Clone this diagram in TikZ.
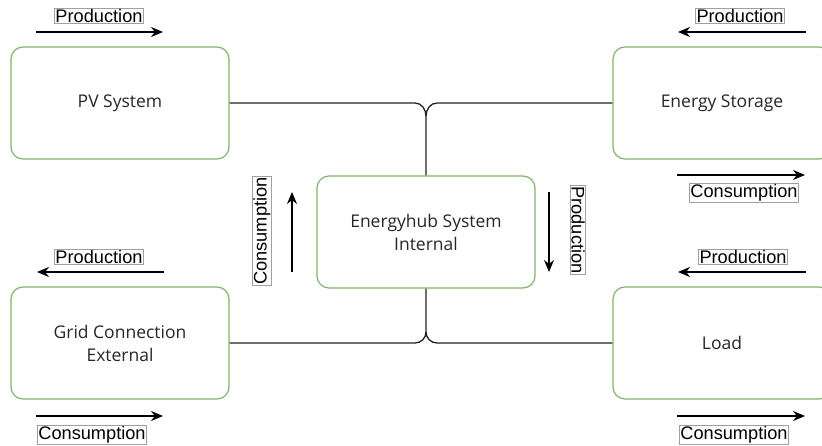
\documentclass[tikz,border=0pt]{standalone}
\usepackage{fontspec}
\setmainfont{Open Sans}
\newfontfamily\etiquetafont{Liberation Sans}
\usepackage{tikz}
\usetikzlibrary{arrows.meta,calc,positioning}
\definecolor{verdeBorde}{RGB}{130,179,102}
\definecolor{grisLinea}{RGB}{34,34,34}
\definecolor{grisCaja}{RGB}{160,160,160}
\tikzstyle{bloque}  =[rectangle, draw=verdeBorde, rounded corners=12pt,
                      line width=1.2pt, minimum width=218pt,
                      minimum height=112pt, align=center,
                      text=black!85, font=\fontsize{17.5}{23}\selectfont]
\tikzstyle{etiqueta}=[draw=grisCaja, line width=0.5pt, inner sep=1pt,
                      font=\etiquetafont\fontsize{18.2}{19}\selectfont]
\tikzstyle{linea}   =[grisLinea, line width=1.3pt]
\tikzstyle{flecha}  =[-{Stealth[length=12pt,width=10pt]}, line width=1.3pt]

\begin{document}
\begin{tikzpicture}[x=1pt,y=-1pt]
    \useasboundingbox (0,0) rectangle (822,446);

    % bloques
    \node[bloque] (pv)      at (120,103) {PV System};
    \node[bloque] (storage) at (722,103) {Energy Storage};
    \node[bloque] (hub)     at (426,232) {Energyhub System\\Internal};
    \node[bloque] (grid)    at (120,343) {Grid Connection\\External};
    \node[bloque] (load)    at (722,343) {Load};

    % uniones
    \coordinate (topJ) at (426,116);
    \coordinate (topL) at (415,103);
    \coordinate (topR) at (437,103);
    \coordinate (botJ) at (426,332);
    \coordinate (botL) at (415,343);
    \coordinate (botR) at (437,343);

    \draw[linea] (pv.east) -- (topL) to[out=0,in=90] (topJ) -- (hub.north);
    \draw[linea] (storage.west) -- (topR) to[out=180,in=90] (topJ);
    \draw[linea] (hub.south) -- (botJ) to[out=-90,in=0] (botL) -- (grid.east);
    \draw[linea] (botJ) to[out=-90,in=180] (botR) -- (load.west);

    % flechas
    \foreach \n/\xa/\xb/\y in {pvP/36/163/32, esP/806/678/32, esC/677/805/175,
        gridP/164/37/272, gridC/36/163/416, loadP/806/678/272, loadC/677/805/416}
    {
        \coordinate (\n a) at (\xa,\y);
        \coordinate (\n b) at (\xb,\y);
        \draw[flecha] (\n a) -- (\n b);
    }
    \coordinate (hubCa) at (292,272);
    \coordinate (hubCb) at (292,192);
    \coordinate (hubPa) at (549,192);
    \coordinate (hubPb) at (549,272);
    \draw[flecha] (hubCa) -- (hubCb);
    \draw[flecha] (hubPa) -- (hubPb);

    % etiquetas
    \node[etiqueta] (pvPt)    at (99,16)   {Production};
    \node[etiqueta] (esPt)    at (740,16)  {Production};
    \node[etiqueta] (esCt)    at (744,193) {Consumption};
    \node[etiqueta] (gridPt)  at (99,257)  {Production};
    \node[etiqueta] (gridCt)  at (92,435)  {Consumption};
    \node[etiqueta] (loadPt)  at (743,257) {Production};
    \node[etiqueta] (loadCt)  at (734,435) {Consumption};
    \node[etiqueta, rotate=90]  (hubCt) at (262,231) {Consumption};
    \node[etiqueta, rotate=-90] (hubPt) at (578,230) {Production};

\end{tikzpicture}
\end{document}
